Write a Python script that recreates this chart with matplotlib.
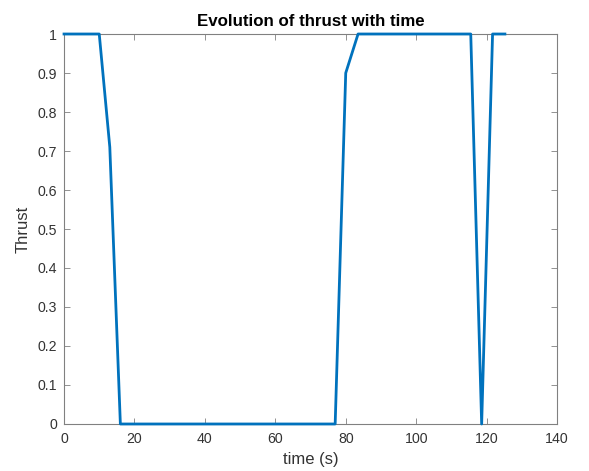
import matplotlib
matplotlib.use("Agg")
import matplotlib.pyplot as plt

# thrust samples
time_s = [0, 10, 13, 16, 77, 80, 83.5, 115.5, 118.6, 121.7, 125.2]
thrust = [1, 1, 0.71, 0, 0, 0.9, 1, 1, 0, 1, 1]

xticks = [0, 20, 40, 60, 80, 100, 120, 140]
yticks = [0, 0.1, 0.2, 0.3, 0.4, 0.5, 0.6, 0.7, 0.8, 0.9, 1]
ytick_labels = ["0", "0.1", "0.2", "0.3", "0.4", "0.5", "0.6", "0.7", "0.8", "0.9", "1"]

plt.rcParams["font.family"] = ["Liberation Sans", "DejaVu Sans"]

fig = plt.figure(figsize=(5.89, 4.71), dpi=100)
ax = fig.add_axes([0.1087, 0.0998, 0.8370, 0.8280])

ax.plot(time_s, thrust, color="#0072BD", linewidth=2.0, clip_on=False, zorder=3)

ax.set_xlim(0, 140)
ax.set_ylim(0, 1)
ax.set_xticks(xticks)
ax.set_yticks(yticks)
ax.set_yticklabels(ytick_labels)

grey = "#333333"
for s in ax.spines.values():
    s.set_color("#808080")
    s.set_linewidth(0.8)
ax.tick_params(direction="in", length=4, width=0.6, colors="#808080",
               labelcolor=grey, labelsize=10.2, top=True, right=True)
ax.tick_params(axis="x", pad=6)
ax.tick_params(axis="y", pad=5)

ax.set_xlabel("time (s)", fontsize=12, color=grey, labelpad=4)
ax.set_ylabel("Thrust", fontsize=12, color=grey, labelpad=5)
ax.set_title("Evolution of thrust with time", fontsize=12.2, fontweight="bold",
             color="black", pad=6)

fig.savefig("out.png", dpi=100)
